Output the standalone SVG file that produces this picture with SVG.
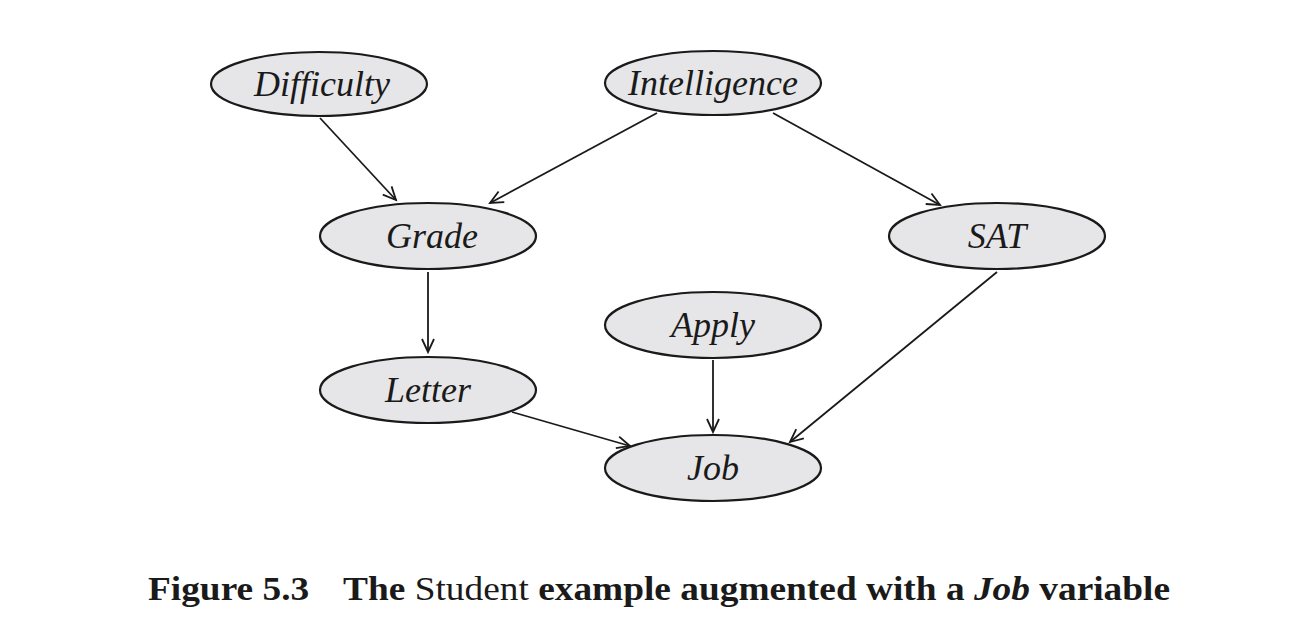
<svg xmlns="http://www.w3.org/2000/svg" width="1308" height="635" viewBox="0 0 1308 635">
<style>
.node ellipse{fill:#e6e6e8;stroke:#1a1a1a;stroke-width:2.2}
.node text{font-family:"Liberation Serif","DejaVu Serif",serif;font-style:italic;font-size:36px;fill:#1a1a1a;text-anchor:middle}
.edges line{stroke:#1a1a1a;stroke-width:1.8;marker-end:url(#arr)}
.cap{font-family:"Liberation Serif","DejaVu Serif",serif;font-size:33px;fill:#1a1a1a;font-weight:bold}
</style>
<defs>
<marker id="arr" markerUnits="userSpaceOnUse" markerWidth="20" markerHeight="20" refX="14" refY="7" orient="auto" viewBox="0 0 20 14">
<path d="M1,1 L14,7 L1,13" fill="none" stroke="#1a1a1a" stroke-width="1.8"/>
</marker>
</defs>
<g class="edges">
<line x1="320" y1="118" x2="396" y2="200"/>
<line x1="657" y1="113" x2="490" y2="203"/>
<line x1="773" y1="113" x2="940" y2="205"/>
<line x1="428" y1="272" x2="428" y2="352"/>
<line x1="713" y1="360" x2="713" y2="432"/>
<line x1="512" y1="412" x2="630" y2="446"/>
<line x1="997" y1="272" x2="790" y2="442"/>
</g>
<g id="difficulty" class="node"><ellipse cx="319" cy="84" rx="108" ry="32"/><text x="322" y="96">Difficulty</text></g>
<g id="intelligence" class="node"><ellipse cx="713" cy="83" rx="108" ry="32"/><text x="713" y="95">Intelligence</text></g>
<g id="grade" class="node"><ellipse cx="428" cy="236" rx="108" ry="33"/><text x="432" y="248">Grade</text></g>
<g id="sat" class="node"><ellipse cx="997" cy="236" rx="108" ry="33"/><text x="997" y="248">SAT</text></g>
<g id="apply" class="node"><ellipse cx="713" cy="325" rx="108" ry="33"/><text x="713" y="337">Apply</text></g>
<g id="letter" class="node"><ellipse cx="428" cy="390" rx="108" ry="33"/><text x="428" y="402">Letter</text></g>
<g id="job" class="node"><ellipse cx="713" cy="468" rx="108" ry="33"/><text x="713" y="480">Job</text></g>
<text class="cap" x="148" y="600" textLength="1022" lengthAdjust="spacingAndGlyphs">Figure 5.3<tspan dx="30">The</tspan> <tspan font-weight="normal">Student</tspan> example augmented with a <tspan font-style="italic">Job</tspan> variable</text>
</svg>
